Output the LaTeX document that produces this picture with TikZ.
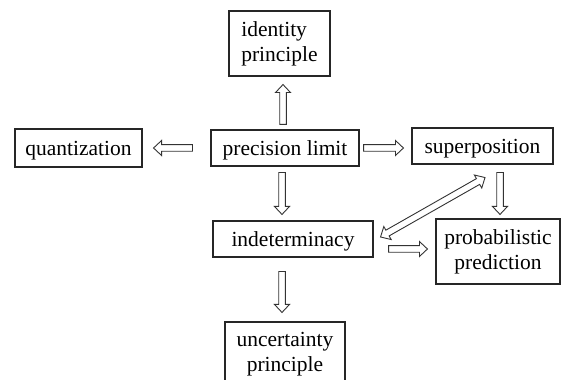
\documentclass[tikz,border=0pt]{standalone}
\usepackage{fontspec}
\setmainfont{Liberation Serif}
\usetikzlibrary{calc}
\tikzset{
  box/.style={draw=black!85, line width=1.1pt, inner sep=0pt, align=center,
    font=\fontsize{21.5}{25}\selectfont},
  onebox/.style={box, text depth=0pt},
  fat/.style={draw=black!80, line width=0.9pt, line join=miter,
    to path={let \p1=(\tikztostart), \p2=(\tikztotarget),
      \n1={atan2(\y2-\y1,\x2-\x1)}, \n2={veclen(\x2-\x1,\y2-\y1)} in
      ($(\p1)+(\n1+90:3.3pt)$) -- ($(\p1)+(\n1:\n2-8pt)+(\n1+90:3.3pt)$)
      -- ($(\p1)+(\n1:\n2-8pt)+(\n1+90:7.5pt)$) -- (\p2)
      -- ($(\p1)+(\n1:\n2-8pt)+(\n1-90:7.5pt)$)
      -- ($(\p1)+(\n1:\n2-8pt)+(\n1-90:3.3pt)$)
      -- ($(\p1)+(\n1-90:3.3pt)$) -- cycle}},
  fatboth/.style={draw=black!80, line width=0.9pt, line join=miter,
    to path={let \p1=(\tikztostart), \p2=(\tikztotarget),
      \n1={atan2(\y2-\y1,\x2-\x1)}, \n2={veclen(\x2-\x1,\y2-\y1)} in
      (\p1) -- ($(\p1)+(\n1:8pt)+(\n1+90:7.5pt)$)
      -- ($(\p1)+(\n1:8pt)+(\n1+90:3.3pt)$)
      -- ($(\p1)+(\n1:\n2-8pt)+(\n1+90:3.3pt)$)
      -- ($(\p1)+(\n1:\n2-8pt)+(\n1+90:7.5pt)$) -- (\p2)
      -- ($(\p1)+(\n1:\n2-8pt)+(\n1-90:7.5pt)$)
      -- ($(\p1)+(\n1:\n2-8pt)+(\n1-90:3.3pt)$)
      -- ($(\p1)+(\n1:8pt)+(\n1-90:3.3pt)$)
      -- ($(\p1)+(\n1:8pt)+(\n1-90:7.5pt)$) -- cycle}}
}
\begin{document}
\begin{tikzpicture}[x=1pt,y=1pt]
\useasboundingbox (0,0) rectangle (562,380);
\fill[white] (0,0) rectangle (562,380);
\begin{scope}
\clip (0,0) rectangle (562,380);
\node[box, minimum width=101pt, minimum height=65pt, align=left] (ident) at (279.5,336.5) {identity\\principle};
\node[onebox, minimum width=148pt, minimum height=36pt] (prec) at (285,232) {precision limit};
\node[onebox, minimum width=127pt, minimum height=38pt] (quant) at (78.5,232) {quantization};
\node[onebox, minimum width=141pt, minimum height=36pt] (super) at (482.5,234) {superposition};
\node[onebox, minimum width=160pt, minimum height=36pt] (indet) at (293,141) {indeterminacy};
\node[box, minimum width=124pt, minimum height=65pt] (prob) at (498,128.5) {probabilistic\\prediction};
\node[box, minimum width=120pt, minimum height=65pt] (unc) at (285,25.5) {uncertainty\\principle};

\coordinate (a1s) at ([shift={(-2,5)}]prec.north);
\coordinate (a1e) at ([shift={(3.5,-8)}]ident.south);
\draw[fat] (a1s) to (a1e);
\coordinate (a2s) at ([shift={(-18,0)}]prec.west);
\coordinate (a2e) at ([shift={(11,0)}]quant.east);
\draw[fat] (a2s) to (a2e);
\coordinate (a3s) at ([shift={(4,0)}]prec.east);
\coordinate (a3e) at ([shift={(-8,-2)}]super.west);
\draw[fat] (a3s) to (a3e);
\coordinate (a4s) at ([shift={(-3,-6)}]prec.south);
\coordinate (a4e) at ([shift={(-11,6)}]indet.north);
\draw[fat] (a4s) to (a4e);
\coordinate (a5s) at ([shift={(17.5,-8)}]super.south);
\coordinate (a5e) at ([shift={(2,4)}]prob.north);
\draw[fat] (a5s) to (a5e);
\coordinate (a6s) at ([shift={(15,-10)}]indet.east);
\coordinate (a6e) at ([shift={(-8,2.5)}]prob.west);
\draw[fat] (a6s) to (a6e);
\coordinate (a7s) at ([shift={(-11,-14)}]indet.south);
\coordinate (a7e) at ([shift={(-3,9)}]unc.north);
\draw[fat] (a7s) to (a7e);
\coordinate (a8s) at ([shift={(7,2)}]indet.east);
\coordinate (a8e) at ([shift={(2.5,-13)}]super.south);
\draw[fatboth] (a8s) to (a8e);
\end{scope}
\end{tikzpicture}
\end{document}
